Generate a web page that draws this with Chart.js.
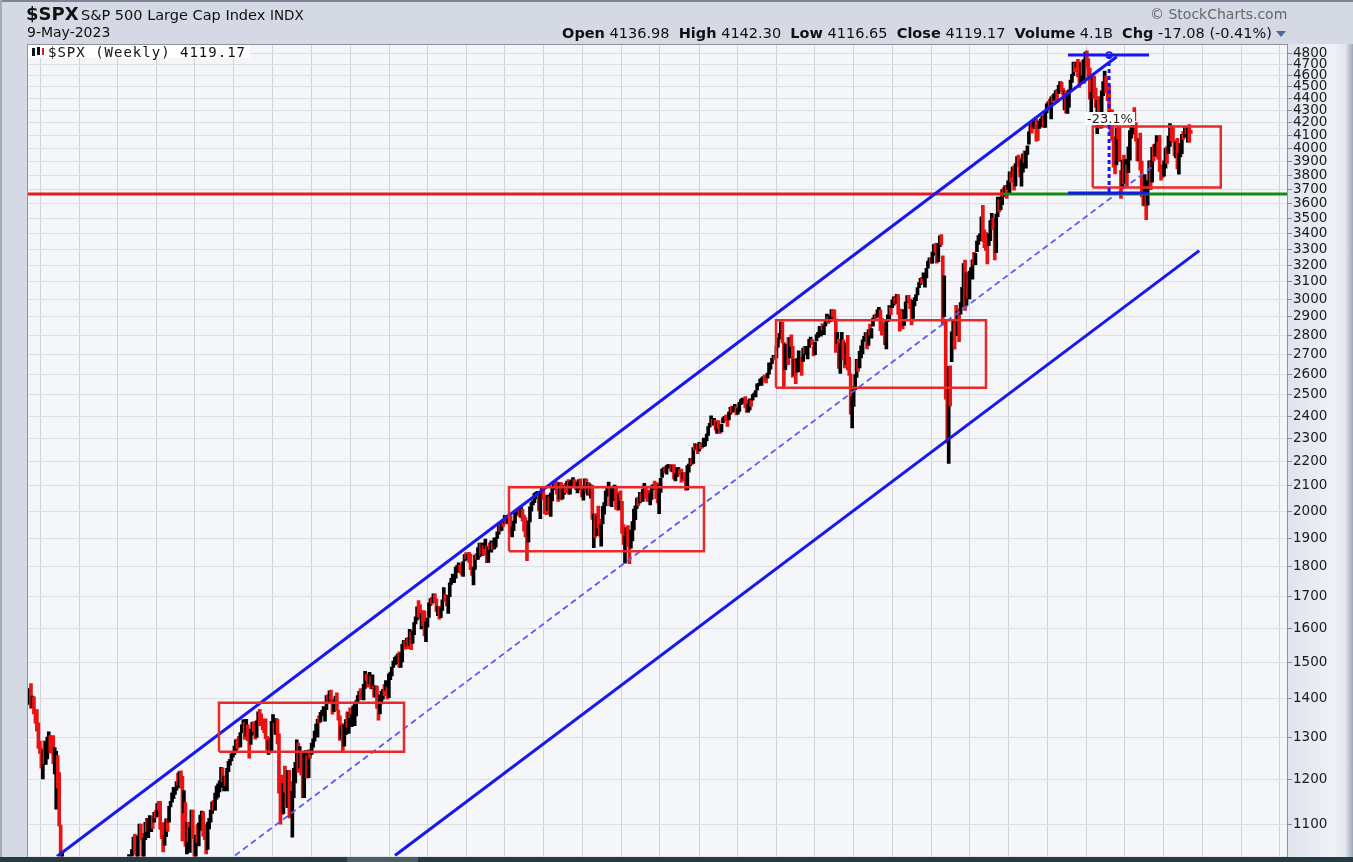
<!DOCTYPE html>
<html><head><meta charset="utf-8">
<script src="https://cdn.jsdelivr.net/npm/chart.js@4.4.0/dist/chart.umd.min.js"></script>
<style>
html,body{margin:0;padding:0;}
body{width:1353px;height:862px;position:relative;overflow:hidden;background:#d4d9e3;font-family:'DejaVu Sans',Verdana,sans-serif;}
#topline{position:absolute;left:0;top:0;width:1353px;height:2px;background:#7c8492;}
#leftline{position:absolute;left:0;top:0;width:2px;height:862px;background:#a3abb8;}
#axisPanel{position:absolute;left:1287px;top:44px;width:66px;height:814px;background:linear-gradient(to right,#dfe3ec 0%,#eef1f6 70%,#e3e7ef 88%,#9ea7b5 100%);}
#bottomBar{position:absolute;left:0;top:857px;width:1353px;height:5px;background:#263a42;}
#bottomSeg{position:absolute;left:347px;top:857px;width:71px;height:5px;background:#4d5d64;}
canvas{position:absolute;left:0;top:0;}
.t{position:absolute;white-space:nowrap;color:#111;line-height:1;}
#sym{left:26px;top:5px;font-size:18px;font-weight:bold;}
#name{left:81px;top:8px;font-size:14.5px;}
#indx{left:270px;top:9px;font-size:13.5px;}
#date{left:27px;top:25px;font-size:14px;}
#copy{left:1150px;top:7px;font-size:14px;color:#666;}
#ohlc{right:81px;top:26px;font-size:14.5px;}
#ohlc b{font-weight:bold;}
#tri{position:absolute;left:1276px;top:31px;width:0;height:0;border-left:5px solid transparent;border-right:5px solid transparent;border-top:6px solid #4a6a9c;}
#legend{position:absolute;left:28px;top:45px;width:222px;height:13px;background:#ffffff;}
#legendText{left:48px;top:45px;font-family:'DejaVu Sans Mono',monospace;font-size:14px;letter-spacing:1px;color:#111;}
#icon1{position:absolute;left:32px;top:48px;width:3px;height:8px;background:#111;}
#icon2{position:absolute;left:37px;top:47px;width:3px;height:8px;background:#111;}
#icon3{position:absolute;left:42px;top:48px;width:2px;height:7px;background:#c22;}
#pct{font-size:13px;background:#ffffff;padding:0 2px;color:#222;}
</style></head><body>
<div id="topline"></div>
<div id="leftline"></div>
<div id="axisPanel"></div>
<canvas id="c" width="1353" height="862"></canvas>
<div id="bottomBar"></div><div id="bottomSeg"></div>
<div class="t" id="sym">$SPX</div>
<div class="t" id="name">S&amp;P 500 Large Cap Index</div>
<div class="t" id="indx">INDX</div>
<div class="t" id="date">9-May-2023</div>
<div class="t" id="copy">© StockCharts.com</div>
<div class="t" id="ohlc"><b>Open</b> 4136.98 &nbsp;<b>High</b> 4142.30 &nbsp;<b>Low</b> 4116.65 &nbsp;<b>Close</b> 4119.17 &nbsp;<b>Volume</b> 4.1B &nbsp;<b>Chg</b> -17.08 (-0.41%)</div>
<div id="tri"></div>
<div id="legend"></div>
<div id="icon1"></div><div id="icon2"></div><div id="icon3"></div>
<div class="t" id="legendText">$SPX (Weekly) 4119.17</div>
<div class="t" id="pct">-23.1%</div>
<script>
// Weekly bars, first bar = week of Monday 5-May-2008, last = week of 8-May-2023
const startMonday = Date.UTC(2008, 4, 5);
const closes = [
// 2008
1388,1425,1375,1400,1361,1360,1318,1278,1262,1239,1261,1257,1260,1296,1298,1292,1283,1242,1252,1255,1213,1099,899,940,877,968,930,873,800,896,876,879,887,872,931,
// 2009
890,850,832,826,869,827,770,735,683,756,769,816,843,857,870,866,877,929,882,887,919,940,946,921,918,896,879,940,979,987,1010,1005,1026,1029,1016,1043,1068,1044,1025,1071,1087,1079,1036,1069,1093,1091,1092,1106,1107,1102,1126,1115,
// 2010
1145,1136,1092,1074,1066,1075,1109,1105,1139,1150,1160,1167,1179,1194,1192,1217,1187,1111,1136,1088,1089,1065,1092,1117,1076,1022,1078,1065,1102,1102,1122,1079,1071,1065,1105,1110,1126,1149,1147,1166,1176,1183,1183,1226,1200,1200,1190,1225,1240,1244,1257,1258,
// 2011
1272,1293,1283,1276,1311,1330,1343,1320,1321,1304,1279,1314,1332,1328,1320,1337,1364,1340,1338,1333,1331,1300,1271,1271,1268,1340,1344,1316,1345,1292,1199,1179,1124,1177,1174,1154,1216,1136,1131,1155,1225,1238,1285,1253,1263,1216,1159,1244,1255,1220,1265,1258,
// 2012
1278,1289,1315,1316,1345,1343,1362,1366,1370,1371,1404,1397,1408,1398,1370,1378,1403,1369,1353,1295,1318,1278,1326,1343,1335,1362,1355,1357,1363,1386,1391,1406,1418,1411,1407,1438,1466,1460,1441,1461,1429,1433,1412,1414,1380,1359,1409,1416,1418,1413,1430,1402,1466,
// 2013
1472,1486,1503,1513,1518,1520,1516,1518,1551,1561,1557,1569,1553,1588,1555,1582,1614,1633,1667,1650,1631,1643,1626,1593,1606,1632,1680,1692,1691,1709,1691,1656,1664,1633,1655,1688,1710,1692,1690,1704,1745,1760,1762,1771,1798,1805,1806,1805,1775,1818,1841,1831,
// 2014
1842,1838,1790,1783,1797,1838,1836,1859,1878,1841,1866,1857,1865,1816,1864,1863,1881,1878,1878,1900,1924,1950,1937,1963,1961,1985,1968,1978,1978,1925,1931,1955,1988,2003,2008,1985,2010,1982,1968,1906,1887,1964,2018,2032,2039,2064,2068,2075,2002,2071,2088,2059,
// 2015
2044,2019,2051,1995,2055,2097,2110,2105,2071,2053,2108,2061,2067,2102,2081,2117,2108,2116,2123,2126,2107,2093,2094,2110,2102,2077,2077,2127,2080,2104,2078,2092,1971,1989,1921,1961,1958,1932,1951,2015,2033,2075,2079,2100,2023,2089,2090,2092,2012,2005,2061,2044,
// 2016
1922,1880,1907,1940,1880,1865,1917,1948,1999,2022,2050,2035,2073,2048,2081,2092,2065,2057,2047,2052,2099,2099,2096,2071,2037,2103,2130,2162,2175,2174,2183,2184,2184,2169,2180,2128,2139,2165,2168,2153,2133,2141,2126,2085,2164,2182,2213,2192,2259,2258,2264,2239,
// 2017
2277,2275,2271,2295,2297,2316,2351,2367,2383,2373,2378,2344,2363,2355,2329,2349,2384,2399,2391,2382,2416,2439,2432,2433,2438,2423,2425,2459,2472,2472,2476,2441,2426,2443,2477,2461,2500,2502,2519,2549,2553,2575,2581,2588,2582,2579,2602,2642,2652,2676,2683,2674,
// 2018
2743,2786,2810,2873,2762,2620,2732,2747,2691,2786,2752,2588,2641,2604,2656,2670,2670,2663,2728,2713,2721,2735,2779,2780,2755,2718,2760,2801,2802,2819,2840,2833,2850,2875,2901,2872,2904,2930,2914,2886,2767,2768,2659,2723,2781,2736,2633,2760,2633,2600,2417,2486,2532,
// 2019
2596,2671,2665,2707,2708,2776,2793,2804,2743,2822,2801,2834,2893,2907,2905,2940,2946,2881,2860,2826,2752,2873,2887,2950,2942,2990,3014,2977,3025,2932,2918,2889,2847,2926,2979,3007,2992,2962,2952,2970,2986,3023,3067,3093,3120,3110,3141,3146,3169,3221,3240,3235,
// 2020
3265,3330,3295,3226,3328,3380,3338,2954,2972,2711,2305,2541,2489,2790,2875,2837,2831,2930,2864,2955,3044,3194,3041,3098,3009,3130,3185,3225,3216,3271,3351,3373,3397,3508,3427,3341,3319,3298,3348,3477,3484,3465,3270,3510,3585,3558,3638,3699,3663,3709,3703,3756,
// 2021
3825,3768,3841,3714,3887,3934,3907,3811,3842,3943,3913,3975,4020,4129,4185,4180,4181,4233,4174,4156,4204,4230,4247,4166,4281,4352,4370,4327,4412,4395,4437,4468,4442,4509,4535,4459,4433,4455,4357,4391,4471,4545,4605,4697,4683,4698,4595,4538,4712,4621,4726,4766,
// 2022
4677,4663,4398,4432,4501,4419,4349,4385,4329,4204,4463,4543,4546,4488,4393,4272,4132,4123,4024,3901,4158,4109,3901,3675,3912,3825,3899,3863,3962,4130,4145,4280,4228,4058,3924,4067,3873,3693,3586,3640,3583,3753,3901,3771,3993,3965,4027,4071,3934,3852,3845,3840,
// 2023
3895,3999,3973,4071,4136,4090,4079,3970,4046,3862,3917,3971,4109,4105,4138,4133,4169,4136,4119
];
const highs = [
1416,1426,1440,1406,1404,1370,1370,1336,1290,1273,1268,1291,1288,1300,1313,1304,1301,1304,1274,1265,1255,1215,1099,1044,985,984,1007,951,917,896,896,918,918,887,934,
943,900,871,877,875,877,827,780,741,758,804,832,845,857,875,871,880,930,930,924,926,956,956,947,934,931,898,943,980,996,1018,1013,1027,1039,1028,1049,1074,1080,1063,1076,1101,1101,1082,1072,1105,1113,1112,1119,1115,1117,1126,1130,
1145,1150,1150,1103,1104,1078,1112,1112,1139,1150,1169,1181,1181,1194,1214,1217,1219,1206,1174,1147,1105,1105,1093,1131,1131,1075,1078,1100,1103,1120,1129,1127,1100,1075,1105,1113,1131,1149,1152,1168,1184,1189,1196,1227,1226,1207,1207,1225,1241,1246,1259,1263,
1278,1293,1296,1302,1311,1331,1344,1337,1345,1331,1297,1320,1337,1339,1328,1341,1364,1371,1359,1346,1336,1346,1302,1293,1298,1340,1357,1335,1347,1345,1308,1208,1209,1190,1230,1205,1220,1220,1195,1172,1225,1239,1293,1285,1277,1266,1208,1261,1267,1255,1268,1269,
1285,1296,1315,1333,1345,1354,1363,1368,1378,1372,1407,1409,1420,1422,1398,1392,1406,1415,1369,1354,1328,1334,1330,1344,1364,1363,1375,1358,1380,1386,1394,1407,1419,1426,1413,1438,1474,1466,1457,1471,1460,1464,1434,1434,1433,1391,1409,1419,1424,1438,1448,1430,1467,
1472,1486,1503,1514,1518,1524,1530,1525,1552,1564,1563,1570,1573,1597,1589,1592,1618,1636,1667,1687,1674,1646,1655,1654,1620,1632,1680,1694,1698,1709,1709,1693,1669,1669,1664,1690,1730,1707,1692,1704,1745,1760,1775,1771,1799,1805,1813,1806,1809,1818,1842,1849,
1843,1850,1844,1800,1798,1840,1846,1867,1883,1883,1883,1875,1897,1872,1869,1884,1891,1885,1902,1901,1924,1950,1955,1963,1968,1985,1984,1983,1989,1984,1943,1964,1994,2006,2012,2008,2019,2008,1986,1977,1906,1965,2018,2034,2041,2071,2075,2079,2074,2077,2094,2093,
2064,2049,2064,2057,2072,2097,2110,2119,2117,2080,2114,2114,2089,2103,2111,2120,2126,2117,2124,2134,2126,2121,2115,2126,2129,2102,2085,2129,2128,2114,2112,2105,2103,1989,1992,1983,2021,1970,1951,2020,2034,2080,2094,2116,2093,2097,2095,2104,2090,2076,2067,2081,
2039,1951,1908,1940,1947,1881,1930,1962,2009,2022,2052,2056,2075,2073,2087,2111,2099,2083,2084,2072,2100,2106,2120,2095,2113,2104,2131,2169,2175,2178,2183,2188,2188,2188,2184,2187,2150,2175,2175,2167,2169,2153,2154,2133,2183,2190,2214,2214,2260,2278,2273,2272,
2282,2279,2276,2301,2299,2319,2352,2367,2401,2385,2390,2382,2371,2379,2356,2362,2392,2399,2404,2406,2418,2440,2446,2441,2454,2443,2433,2463,2477,2484,2480,2491,2474,2454,2480,2475,2500,2508,2520,2552,2555,2576,2582,2588,2597,2590,2605,2657,2655,2680,2695,2692,
2743,2787,2810,2873,2870,2763,2754,2747,2789,2787,2802,2741,2675,2672,2680,2718,2683,2682,2732,2742,2742,2736,2779,2791,2777,2743,2764,2804,2816,2848,2841,2864,2851,2877,2916,2900,2908,2941,2940,2940,2889,2816,2779,2756,2816,2775,2718,2760,2800,2685,2601,2489,2539,
2598,2675,2672,2716,2744,2776,2794,2814,2811,2831,2861,2836,2894,2910,2916,2940,2954,2939,2892,2868,2830,2876,2911,2964,2955,2996,3014,3018,3028,3027,2945,2943,2939,2940,2985,3021,3022,3002,2992,2993,3008,3027,3067,3097,3121,3127,3154,3146,3182,3226,3247,3247,
3282,3330,3337,3285,3337,3385,3393,3259,3136,2882,2553,2637,2641,2819,2880,2868,2965,2932,2945,2980,3068,3211,3233,3155,3154,3165,3187,3234,3280,3275,3352,3388,3399,3510,3588,3425,3409,3329,3398,3486,3534,3502,3432,3529,3646,3628,3645,3699,3712,3726,3723,3760,
3826,3823,3861,3870,3887,3938,3950,3931,3915,3960,3983,3979,4020,4130,4192,4195,4219,4238,4232,4187,4214,4233,4255,4262,4286,4356,4372,4394,4415,4430,4442,4468,4479,4513,4545,4540,4486,4466,4466,4429,4475,4559,4608,4718,4714,4718,4743,4672,4713,4731,4740,4808,
4819,4749,4664,4453,4596,4590,4490,4385,4416,4302,4465,4546,4637,4594,4471,4513,4309,4307,4082,4090,4159,4177,4168,3837,3913,3950,3918,3878,4013,4140,4167,4280,4325,4203,4062,4077,4119,3905,3733,3806,3677,3762,3906,3911,4009,4028,4034,4100,4052,4101,3878,3872,
3906,4004,4015,4095,4195,4176,4176,4066,4048,4078,3964,4040,4110,4133,4164,4170,4171,4187,4142
];
const lows = [
1384,1386,1373,1375,1359,1335,1315,1272,1260,1225,1200,1235,1234,1247,1269,1261,1263,1236,1212,1133,1179,1097,839,866,845,845,899,818,741,800,815,837,871,857,857,
888,805,804,821,812,808,754,734,667,672,740,770,779,814,838,826,847,875,878,877,881,916,932,904,888,895,869,875,940,969,986,990,978,1017,991,1017,1040,1041,1020,1025,1069,1068,1033,1029,1069,1085,1073,1090,1085,1092,1105,1114,
1117,1131,1090,1071,1044,1057,1075,1086,1105,1138,1148,1156,1165,1175,1186,1180,1181,1066,1125,1055,1040,1064,1043,1084,1071,1011,1028,1063,1056,1088,1105,1076,1069,1040,1049,1091,1105,1124,1131,1131,1155,1159,1171,1181,1194,1173,1185,1173,1217,1232,1242,1251,
1257,1265,1271,1275,1276,1311,1324,1294,1302,1291,1249,1282,1305,1314,1295,1299,1333,1329,1330,1318,1311,1296,1268,1258,1262,1267,1336,1309,1306,1283,1168,1101,1121,1123,1170,1137,1136,1114,1127,1074,1158,1191,1229,1215,1226,1209,1158,1158,1231,1202,1203,1249,
1258,1275,1290,1306,1300,1335,1338,1355,1354,1340,1370,1386,1391,1395,1358,1365,1367,1367,1343,1292,1296,1267,1278,1306,1324,1309,1349,1326,1347,1329,1354,1391,1397,1397,1397,1396,1427,1449,1430,1439,1425,1426,1403,1403,1373,1343,1359,1385,1398,1407,1422,1398,1402,
1451,1461,1485,1492,1495,1510,1485,1485,1501,1547,1538,1546,1539,1548,1536,1555,1581,1614,1626,1635,1630,1598,1608,1577,1560,1604,1634,1672,1676,1681,1684,1653,1639,1628,1633,1656,1685,1684,1670,1646,1700,1740,1746,1746,1761,1780,1800,1779,1772,1767,1820,1827,
1823,1815,1790,1770,1738,1791,1825,1825,1834,1839,1839,1839,1863,1814,1815,1859,1851,1859,1862,1868,1900,1915,1926,1929,1944,1956,1953,1955,1965,1916,1905,1928,1956,1987,1997,1980,1978,1963,1926,1905,1821,1886,1961,2001,2025,2034,2064,2049,2002,1973,2068,2046,
1992,1988,2004,1989,1981,2041,2085,2098,2067,2039,2049,2045,2049,2066,2073,2091,2067,2067,2093,2119,2099,2085,2072,2084,2098,2056,2044,2075,2077,2063,2067,2052,1970,1867,1903,1911,1937,1908,1872,1953,1990,2021,2059,2076,2022,2019,2070,2042,2008,2005,2006,2043,
1918,1878,1812,1873,1872,1810,1865,1891,1931,1969,2012,2022,2033,2039,2039,2077,2052,2039,2045,2025,2047,2085,2089,2050,2033,1992,2074,2134,2154,2155,2148,2176,2172,2160,2157,2127,2120,2138,2145,2145,2115,2128,2120,2083,2084,2156,2183,2188,2192,2248,2254,2234,
2245,2255,2258,2264,2267,2289,2313,2350,2360,2358,2359,2336,2322,2344,2322,2328,2369,2378,2380,2353,2382,2409,2415,2419,2431,2405,2408,2421,2453,2459,2464,2437,2417,2418,2428,2446,2474,2496,2489,2521,2542,2547,2544,2566,2566,2557,2580,2600,2624,2652,2680,2673,
2682,2737,2779,2808,2759,2533,2622,2675,2647,2682,2741,2585,2594,2553,2610,2660,2612,2594,2664,2702,2700,2676,2736,2765,2749,2692,2698,2770,2788,2799,2795,2827,2803,2851,2876,2864,2874,2886,2903,2874,2710,2755,2628,2603,2738,2671,2631,2649,2621,2593,2409,2346,2444,
2524,2583,2613,2631,2682,2702,2768,2775,2728,2746,2800,2785,2849,2880,2891,2898,2900,2825,2801,2805,2750,2728,2874,2883,2912,2952,2966,2975,2976,2914,2822,2840,2834,2853,2891,2980,2985,2946,2856,2892,2961,2991,3024,3066,3084,3091,3120,3070,3124,3183,3224,3212,
3214,3263,3282,3214,3223,3316,3328,2855,2901,2478,2280,2192,2447,2663,2762,2727,2801,2798,2766,2915,2956,3032,2936,2965,3004,3001,3128,3116,3202,3204,3284,3330,3355,3387,3349,3310,3292,3209,3323,3354,3441,3425,3234,3279,3512,3543,3558,3594,3648,3648,3636,3699,
3663,3750,3788,3694,3725,3874,3866,3789,3723,3824,3895,3853,3955,4034,4125,4118,4166,4154,4057,4062,4156,4168,4221,4164,4165,4281,4311,4317,4233,4368,4385,4431,4367,4442,4513,4456,4428,4306,4279,4278,4329,4465,4537,4596,4631,4672,4585,4495,4532,4600,4532,4721,
4662,4582,4395,4223,4414,4401,4327,4115,4279,4157,4161,4424,4507,4450,4382,4267,4124,4062,3859,3811,3876,4074,3900,3637,3705,3741,3743,3722,3819,3911,4079,4113,4218,4057,3907,3906,3838,3647,3584,3591,3491,3590,3733,3698,3751,3906,3945,3940,3919,3828,3765,3784,
3794,3853,3886,3961,4015,4060,4048,3944,3928,3847,3809,3937,3960,4069,4087,4113,4049,4048,4117
];
const yTicks = [1100,1200,1300,1400,1500,1600,1700,1800,1900,2000,2100,2200,2300,2400,2500,2600,2700,2800,2900,3000,3100,3200,3300,3400,3500,3600,3700,3800,3900,4000,4100,4200,4300,4400,4500,4600,4700,4800];

// Annotation lines (x = week index from first bar, y = index level)
const upperChannel = [{x:19.5,y:1035},{x:733.1,y:4766}];
const lowerChannel = [{x:247.1,y:1037},{x:788.7,y:3291}];
const midChannel   = [{x:139.4,y:1037},{x:758.9,y:3877}];
const supportLevel = 3667;
const supportBreakX = 656.6;
const peakLine   = [{x:700.3,y:4782},{x:754.9,y:4782}];
const troughLine = [{x:700.3,y:3674},{x:754.9,y:3674}];
const dropLine   = [{x:728.0,y:4782},{x:728.0,y:3674}];
const dropLabel  = {x:728.6,y:4235,text:'-23.1%'};
const boxA = {x1:128.6,x2:253.2,y1:1264,y2:1388};
const boxB = {x1:323.9,x2:455.2,y1:1854,y2:2095};
const boxC = {x1:503.7,x2:645.1,y1:2533,y2:2882};
const boxD = {x1:717.0,x2:803.2,y1:3713,y2:4171};

const X_MIN = -0.67, X_MAX = 847.8, Y_MIN = 1035, Y_MAX = 4874;
const RED = '#e81313', BLACK = '#000000', BLUE = '#1717ee';

function weekIndex(y, m, d) { return (Date.UTC(y, m, d) - startMonday) / (7 * 86400000); }
const xGrid = [];
for (let y = 2008; y <= 2024; y++) for (const m of [0, 6]) { const v = weekIndex(y, m, 1); if (v > X_MIN && v < X_MAX) xGrid.push(v); }

const barData = closes.map((c, i) => ({ x: i, y: [lows[i], highs[i]] }));
const barColors = closes.map((c, i) => (i > 0 && c < closes[i - 1]) ? RED : BLACK);
function rect(b) { return [{x:b.x1,y:b.y1},{x:b.x2,y:b.y1},{x:b.x2,y:b.y2},{x:b.x1,y:b.y2},{x:b.x1,y:b.y1}]; }
function lineDs(data, color, width, dash, extra) {
  return Object.assign({ type: 'line', data, borderColor: color, borderWidth: width, borderDash: dash || [], pointRadius: 0, fill: false, tension: 0, order: 1 }, extra || {});
}

const bgPlugin = {
  id: 'bg',
  beforeDraw(chart) {
    const { ctx, chartArea: a } = chart;
    ctx.save(); ctx.fillStyle = '#f5f6fa'; ctx.fillRect(a.left, a.top, a.right - a.left, a.bottom - a.top); ctx.restore();
  },
  afterDraw(chart) {
    const { ctx, chartArea: a } = chart;
    ctx.save(); ctx.strokeStyle = '#8d929b'; ctx.lineWidth = 1;
    ctx.strokeRect(a.left + 0.5, a.top - 0.5, a.right - a.left, a.bottom - a.top + 2); ctx.restore();
  }
};

const chart = new Chart(document.getElementById('c'), {
  type: 'bar',
  data: {
    datasets: [
      // first in the list is drawn on top
      lineDs(dropLine, BLUE, 3, [4, 3], { pointRadius: [3, 0], pointBorderColor: BLUE, pointBackgroundColor: 'rgba(0,0,0,0)', pointBorderWidth: 1.5 }),
      lineDs(peakLine, BLUE, 3),
      lineDs(troughLine, BLUE, 3),
      lineDs(rect(boxA), '#e82a2a', 2.5),
      lineDs(rect(boxB), '#e82a2a', 2.5),
      lineDs(rect(boxC), '#e82a2a', 2.5),
      lineDs(rect(boxD), '#e82a2a', 2.5),
      lineDs(upperChannel, BLUE, 3),
      lineDs(lowerChannel, BLUE, 3),
      lineDs(midChannel, '#5a5af0', 1.8, [6, 4]),
      lineDs([{x:X_MIN,y:supportLevel},{x:supportBreakX,y:supportLevel}], '#e81a1a', 3),
      lineDs([{x:supportBreakX,y:supportLevel},{x:X_MAX,y:supportLevel}], '#138a13', 3),
      { type: 'bar', data: barData, backgroundColor: barColors, barThickness: 3, grouped: false, order: 10 }
    ]
  },
  options: {
    responsive: false, animation: false, devicePixelRatio: 1,
    layout: { padding: { left: 27, top: 45, right: 0, bottom: 1 } },
    plugins: { legend: { display: false }, tooltip: { enabled: false } },
    scales: {
      x: {
        type: 'linear', min: X_MIN, max: X_MAX, offset: false,
        grid: { color: '#d0d3da', lineWidth: 1, offset: false, drawTicks: false },
        border: { display: false },
        ticks: { display: false },
        afterBuildTicks: s => { s.ticks = xGrid.map(v => ({ value: v })); },
        afterFit: s => { s.height = 0; s.paddingLeft = 0; s.paddingRight = 0; }
      },
      y: {
        type: 'logarithmic', position: 'right', min: Y_MIN, max: Y_MAX,
        grid: { color: '#dcdee5', lineWidth: 1, drawTicks: true, tickLength: 5, tickColor: '#8a8f98' },
        border: { display: false },
        ticks: { autoSkip: false, padding: 1, color: '#1a1a1a', font: { family: 'DejaVu Sans', size: 13.5 }, callback: v => String(v) },
        afterBuildTicks: s => { s.ticks = yTicks.map(v => ({ value: v })); },
        afterFit: s => { s.width = 66; s.paddingTop = 0; s.paddingBottom = 0; }
      }
    }
  },
  plugins: [bgPlugin]
});

// place the measurement label at its data position
const pct = document.getElementById('pct');
const px = chart.scales.x.getPixelForValue(dropLabel.x);
const py = chart.scales.y.getPixelForValue(dropLabel.y);
pct.style.left = (px - pct.offsetWidth / 2) + 'px';
pct.style.top = (py - pct.offsetHeight / 2) + 'px';
</script>
</body></html>
